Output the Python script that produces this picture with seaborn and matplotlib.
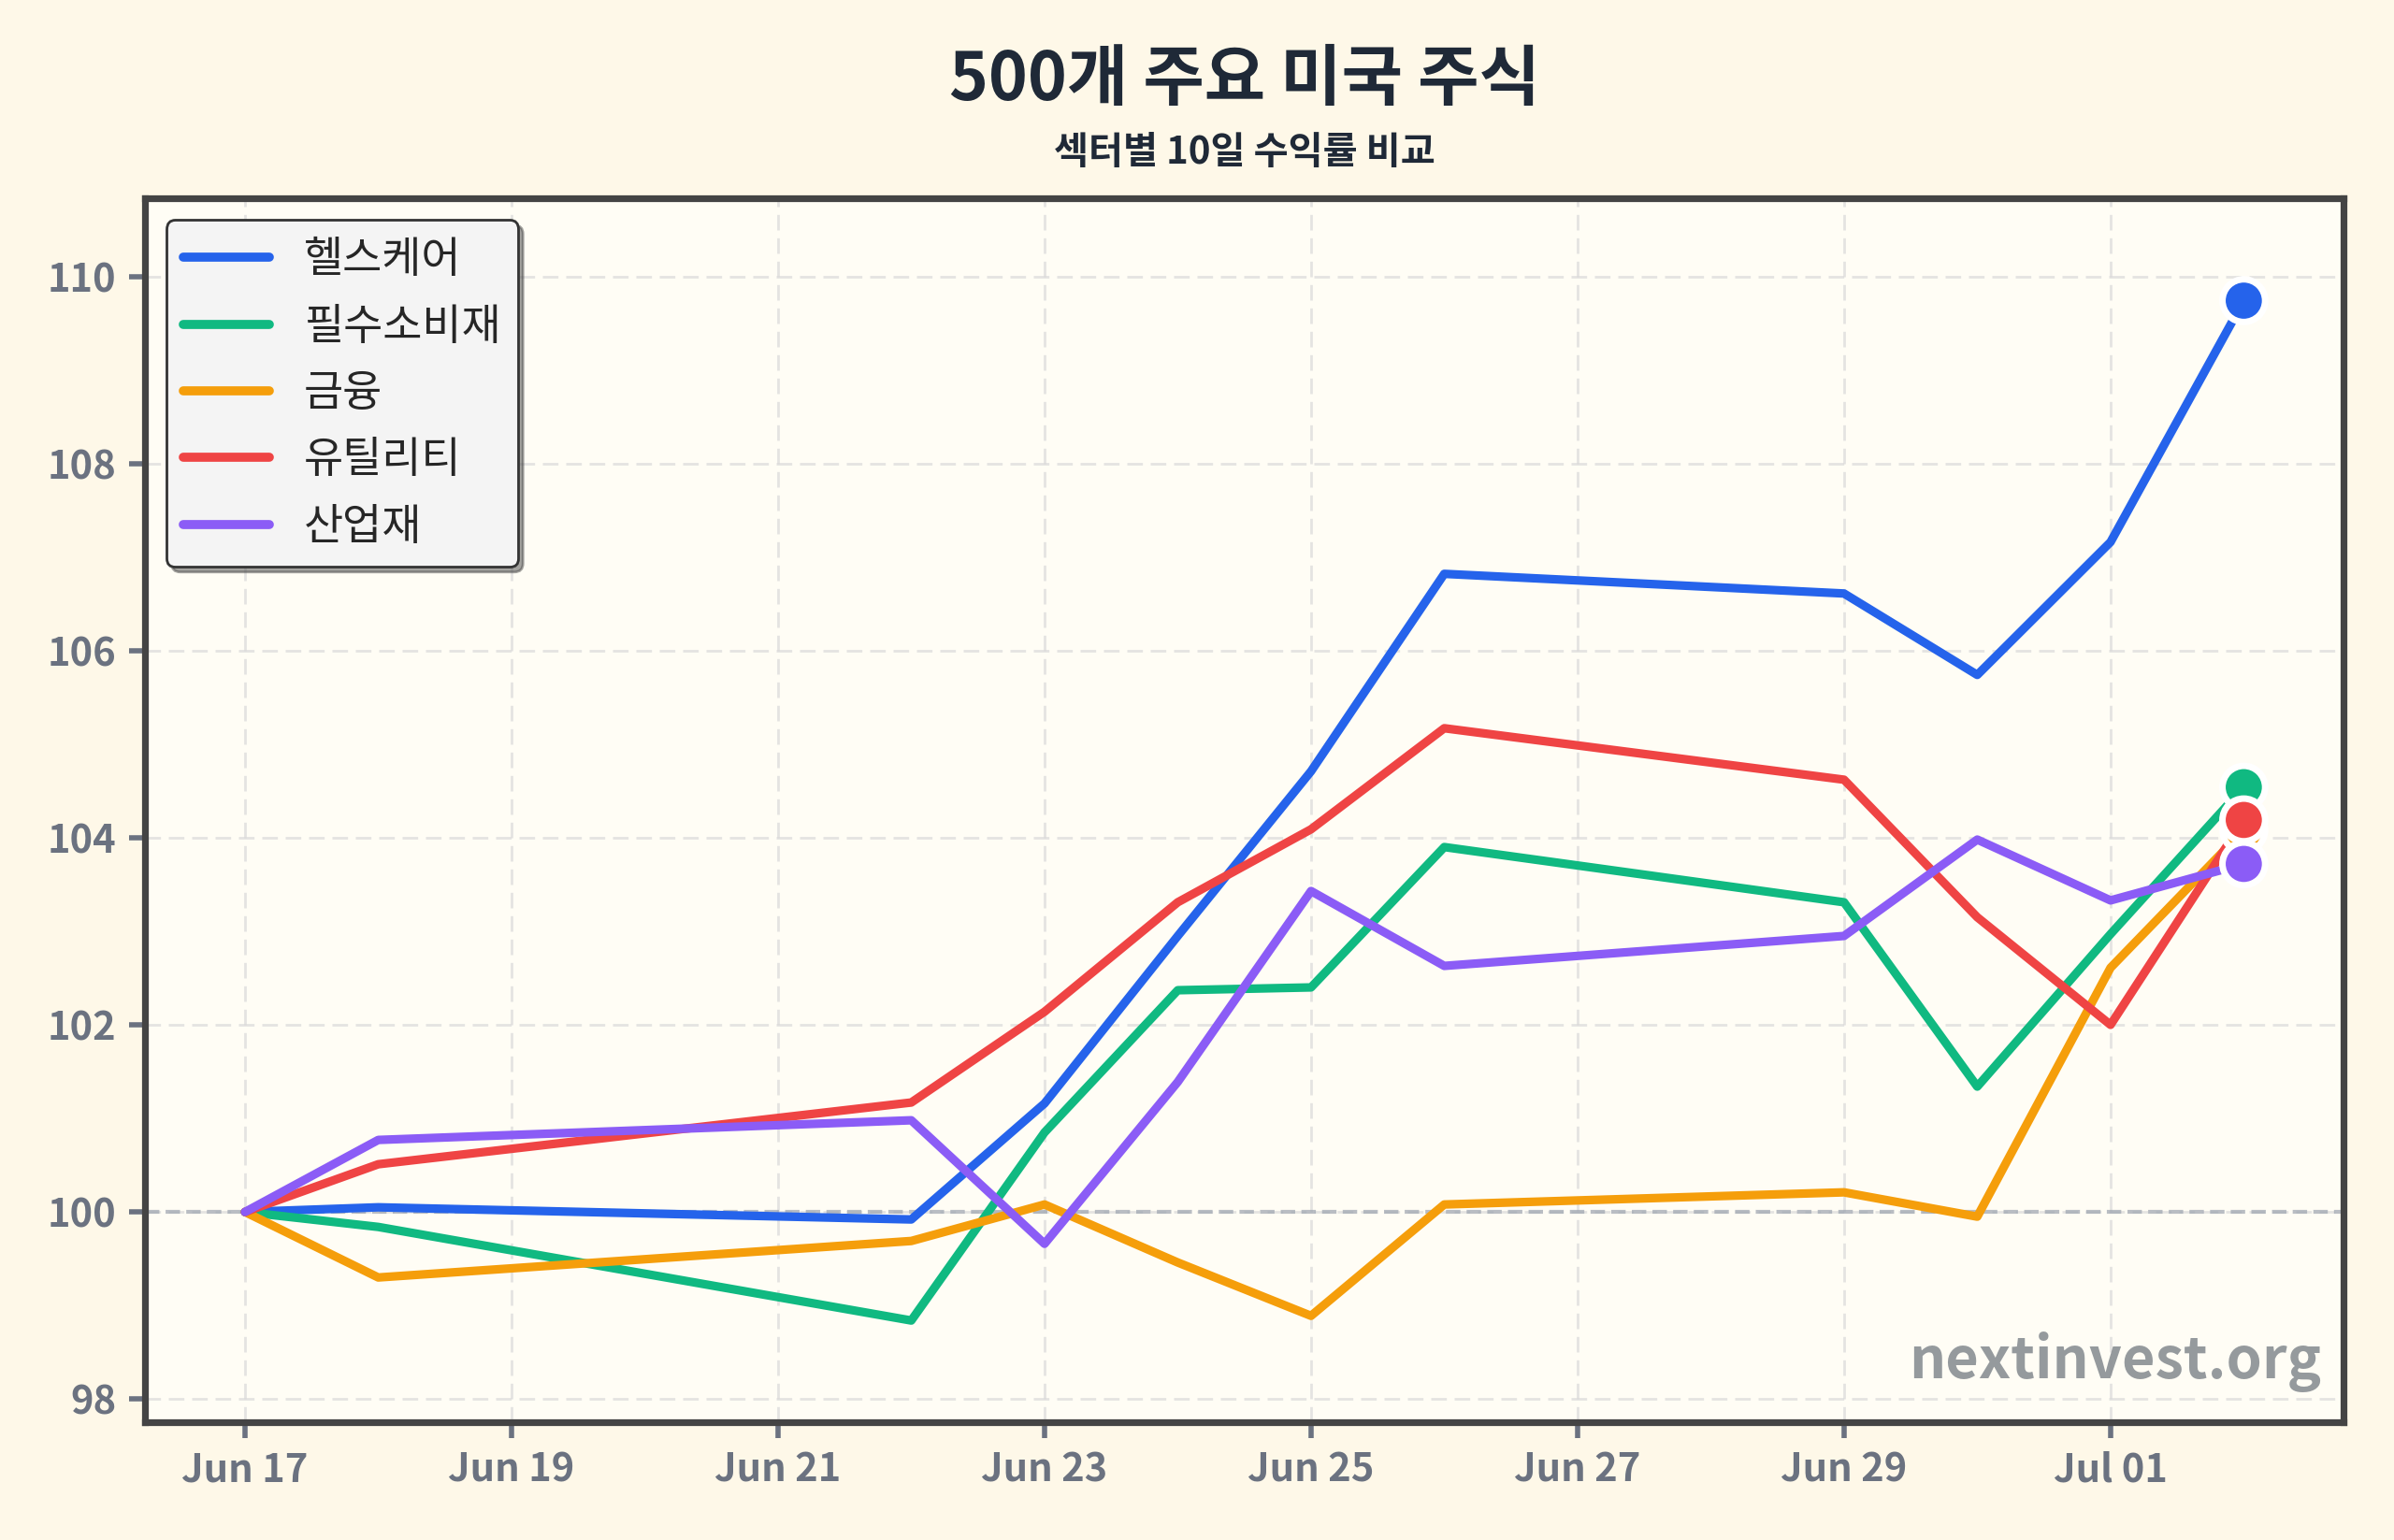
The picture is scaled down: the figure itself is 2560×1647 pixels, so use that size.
import numpy as np
import pandas as pd
import seaborn as sns
import matplotlib.pyplot as plt

dates = pd.to_datetime(
    [
        "2026-06-17", "2026-06-18", "2026-06-22", "2026-06-23", "2026-06-24",
        "2026-06-25", "2026-06-26", "2026-06-29", "2026-06-30", "2026-07-01",
        "2026-07-02",
    ]
)
sectors = ["헬스케어", "필수소비재", "금융", "유틸리티", "산업재"]
healthcare = [100.0, 100.05, 99.92, 101.16, 102.95, 104.71, 106.82, 106.61, 105.74, 107.16, 109.74]
staples = [100.0, 99.84, 98.84, 100.85, 102.37, 102.40, 103.90, 103.31, 101.34, 102.97, 104.54]
financials = [100.0, 99.30, 99.69, 100.08, 99.46, 98.89, 100.08, 100.21, 99.95, 102.61, 104.08]
utilities = [100.0, 100.51, 101.17, 102.14, 103.31, 104.09, 105.17, 104.62, 103.15, 102.00, 104.19]
industrials = [100.0, 100.77, 100.98, 99.66, 101.39, 103.43, 102.63, 102.95, 103.98, 103.33, 103.72]
colors = ["#2563eb", "#10b981", "#f59e0b", "#ef4444", "#8b5cf6"]

wide = pd.DataFrame(
    dict(zip(sectors, [healthcare, staples, financials, utilities, industrials])),
    index=dates,
)
wide.index.name = "date"
df = wide.reset_index().melt(id_vars="date", var_name="sector", value_name="value")

sns.set_style("ticks")
plt.rcParams["font.family"] = ["Noto Sans CJK KR", "DejaVu Sans"]

fig = plt.figure(figsize=(12.8, 8.235), dpi=200, facecolor="#fef8e8")
ax = fig.add_axes([0.0606, 0.0763, 0.9184, 0.7947])
ax.set_facecolor("#fffdf5")

ax.axhline(100, color="#9ca3af", lw=1.5, ls="--", alpha=0.7, zorder=1)
sns.lineplot(
    data=df, x="date", y="value", hue="sector", hue_order=sectors,
    palette=colors, linewidth=3.3, ax=ax, zorder=3,
)
last = df[df["date"] == dates[-1]]
sns.scatterplot(
    data=last, x="date", y="value", hue="sector", hue_order=sectors,
    palette=colors, s=270, edgecolor="white", linewidth=2.5,
    ax=ax, legend=False, zorder=5,
)

ax.grid(True, color="#d9d9d9", lw=1.0, ls=(0, (6, 3)), alpha=0.7)
ax.set_axisbelow(True)

vmin, vmax = df["value"].min(), df["value"].max()
pad = 0.1 * (vmax - vmin)
ax.set_ylim(vmin - pad, vmax + pad)
ax.set_yticks(np.arange(98, 111, 2))
ax.set_xticks(pd.date_range(dates[0], dates[-1], freq="2D"))
ax.xaxis.set_major_formatter(plt.matplotlib.dates.DateFormatter("%b %d"))
ax.set_xlabel("")
ax.set_ylabel("")
ax.tick_params(
    axis="both", labelsize=15, labelcolor="#6b7280", color="#6b7280",
    length=6, width=2, pad=5,
)
for lab in ax.get_xticklabels() + ax.get_yticklabels():
    lab.set_fontweight("bold")
for sp in ax.spines.values():
    sp.set_visible(True)
    sp.set_color("#444444")
    sp.set_linewidth(2.6)

leg = ax.legend(
    loc="upper left", fontsize=16.5, frameon=True, fancybox=True, shadow=True,
    facecolor="#f4f4f4", edgecolor="#333333", framealpha=1,
)
for line in leg.get_lines():
    line.set_linewidth(3.5)

ax.text(
    0.99, 0.025, "nextinvest.org", transform=ax.transAxes, ha="right", va="bottom",
    fontsize=22, fontweight="bold", color="#8a8f94", alpha=0.9, zorder=6,
)

# titles centred over the axes
xc = 0.0606 + 0.9184 / 2
fig.text(xc, 0.948, "500개 주요 미국 주식", ha="center", va="center",
         fontsize=25.6, fontweight="bold", color="#1f2937")
fig.text(xc, 0.901, "섹터별 10일 수익률 비교", ha="center", va="center",
         fontsize=14.5, fontweight="bold", color="#1f2937")

fig.savefig("out.png", dpi=200, facecolor=fig.get_facecolor())
